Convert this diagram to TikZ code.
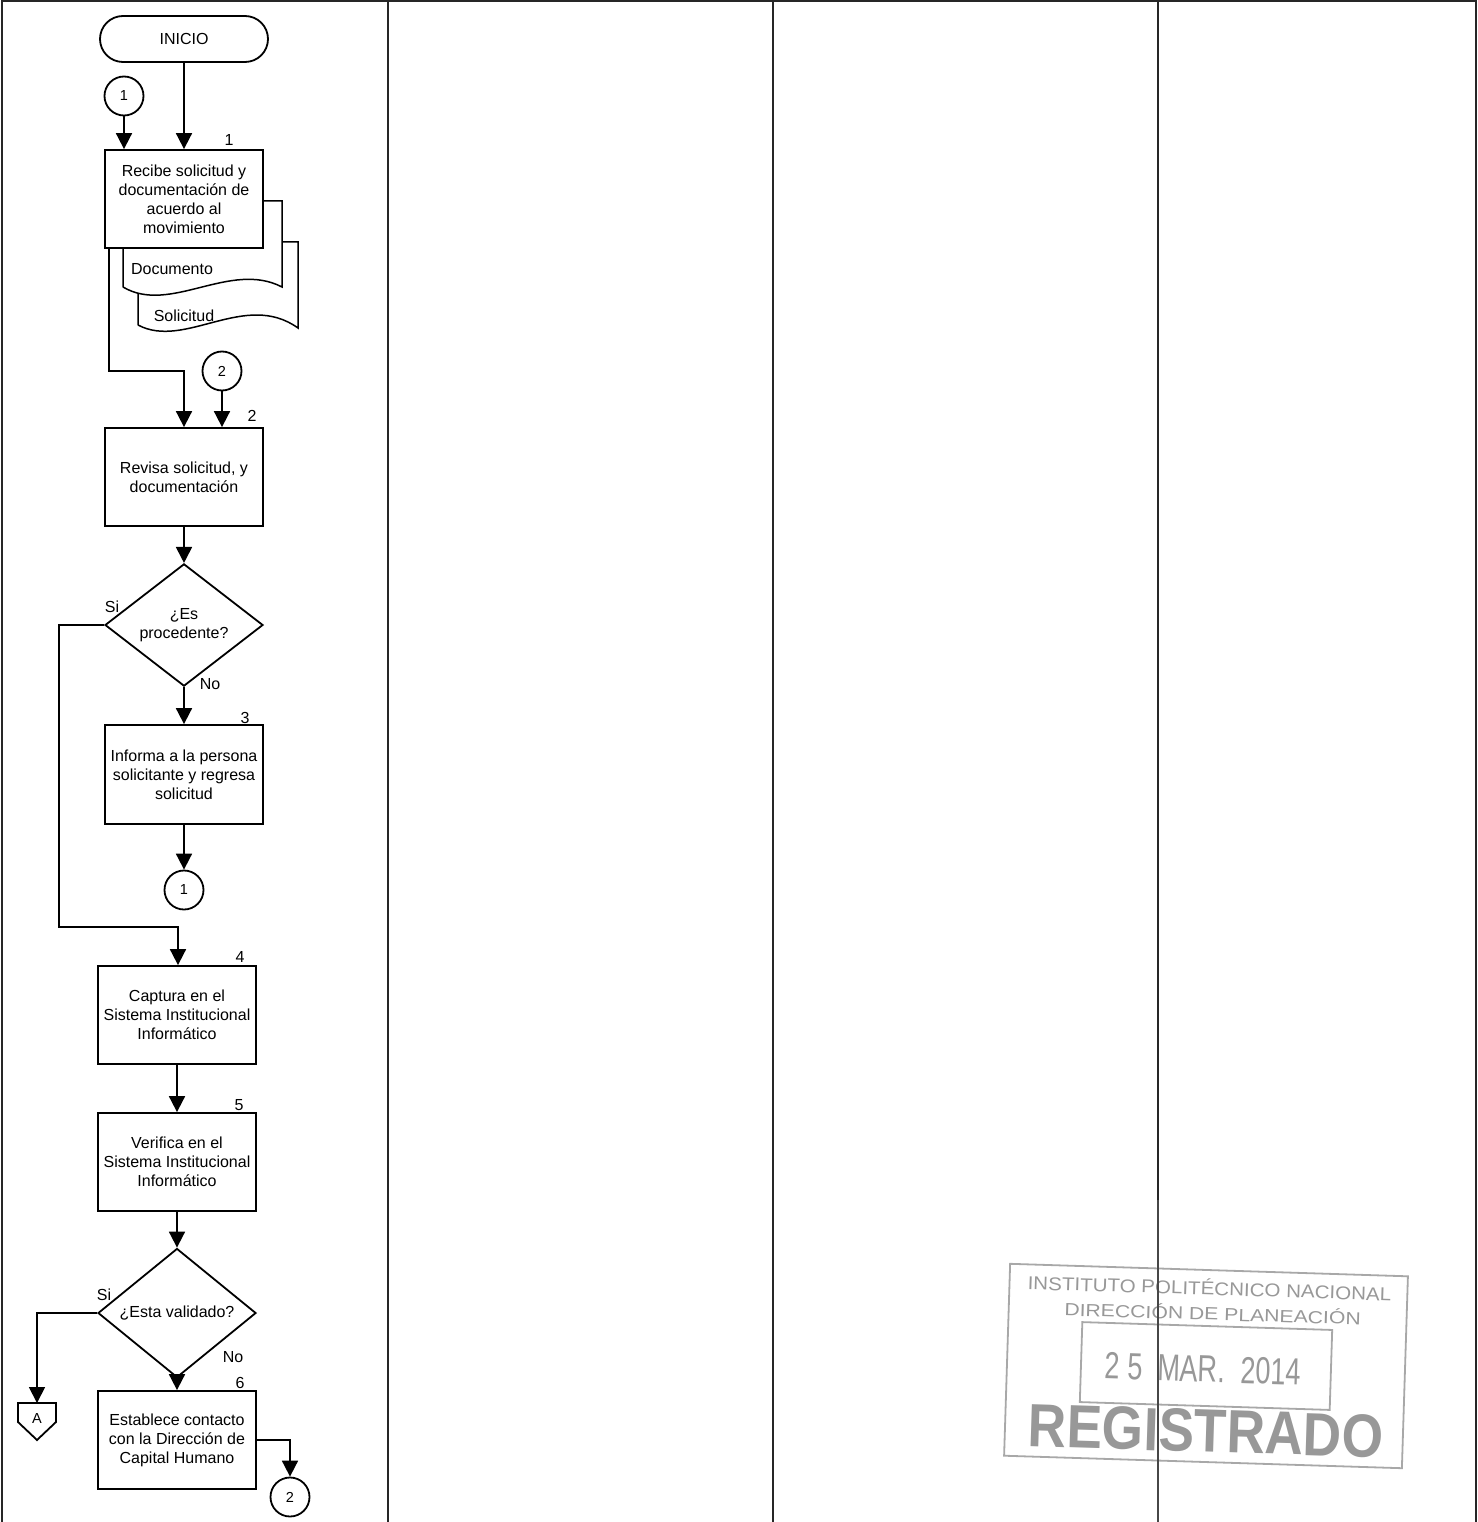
\documentclass[tikz,border=0pt]{standalone}
\usepackage{fontspec}
\setmainfont{Liberation Sans}
\usetikzlibrary{shapes.geometric,arrows.meta}
\definecolor{stampgray}{HTML}{A8A8A8}
\definecolor{stamptext}{HTML}{989898}
\begin{document}
\begin{tikzpicture}[x=1pt,y=-1pt,
  txt/.style={font=\fontsize{16}{19}\selectfont},
  flow/.style={draw=black,line width=1.8pt,fill=white},
  procbox/.style={flow,rectangle,minimum width=158pt,minimum height=98pt,inner sep=1pt,align=center,txt},
  decision/.style={flow,diamond,minimum width=158pt,minimum height=97pt,inner sep=0pt,align=center,txt},
  terminal/.style={flow,rectangle,rounded corners=23pt,minimum width=168pt,minimum height=46pt,txt},
  connector/.style={flow,circle,minimum size=39pt,inner sep=0pt,font=\fontsize{14.5}{14.5}\selectfont},
  arrow/.style={line width=1.8pt,-{Triangle[width=16pt,length=16pt]}},
  tag/.style={inner sep=0pt,txt},
  docshape/.style={draw=black,line width=1.5pt,fill=white},
  frameline/.style={line width=2pt,draw=black!85},
  stampline/.style={draw=stampgray,line width=1.8pt},
  stampword/.style={text=stamptext,inner sep=0pt,anchor=base,transform shape},
]
\useasboundingbox (0,0) rectangle (1477,1522);

% ---------- stamp ----------
\begin{scope}[rotate around={-1.8:(1206,1366)}]
  \draw[stampline] (1007,1270) rectangle (1405,1462);
  \draw[stampline] (1081,1326) rectangle (1331,1406);
  \node[stampword] (st1) at (1207,1295) {\fontsize{18.5}{18.5}\selectfont\scalebox{1.11}[1]{INSTITUTO POLITÉCNICO NACIONAL}};
  \node[stampword] (st2) at (1211,1320) {\fontsize{17.5}{17.5}\selectfont\scalebox{1.21}[1]{DIRECCIÓN DE PLANEACIÓN}};
  \node[stampword] (st3) at (1203,1382) {\fontsize{37.7}{37.7}\selectfont\scalebox{0.72}[1]{2 5\ \ MAR.\ \ 2014}};
  \node[stampword] (st4) at (1208,1452) {\fontsize{61}{61}\selectfont\bfseries\scalebox{0.873}[1]{REGISTRADO}};
\end{scope}

% ---------- frame ----------
\draw[frameline] (2,1522) -- (2,1.5) -- (1475.5,1.5) -- (1475.5,1522);
\draw[frameline] (388,1.5) -- (388,1522);
\draw[frameline] (773,1.5) -- (773,1522);
\draw[frameline] (1158,1.5) -- (1158,1200);
\draw[line width=1.3pt,draw=black!72] (1158,1200) -- (1158,1522);

% ---------- documents behind box 1 ----------
\draw[docshape] (138,325) -- (138,242) -- (298,242) -- (298,328)
  .. controls (245,290) and (185,350) .. (138,325);
\draw[docshape] (123,287) -- (123,201) -- (282,201) -- (282,287)
  .. controls (230,260) and (170,315) .. (123,287);
\node[tag] (docA) at (172,269) {Documento};
\node[tag] (docB) at (184,316) {Solicitud};

% ---------- nodes ----------
\node[terminal] (inicio) at (184,39) {INICIO};
\node[connector] (c1top) at (124,96) {1};
\node[procbox] (box1) at (184,199) {Recibe solicitud y\\documentación de\\acuerdo al\\movimiento};
\node[tag] (n1) at (229,140) {1};

\node[connector] (c2top) at (222,371) {2};
\node[procbox] (box2) at (184,477) {Revisa solicitud, y\\documentación};
\node[tag] (n2) at (252,416) {2};

\node[decision] (d1) at (184,625) {¿Es\\procedente?};
\node[tag] (si1) at (112,607) {Si};
\node[tag] (no1) at (210,684) {No};

\node[procbox,minimum height=99pt] (box3) at (184,774.5) {Informa a la persona\\solicitante y regresa\\solicitud};
\node[tag] (n3) at (245,718) {3};
\node[connector] (c1bot) at (184,890) {1};

\node[procbox] (box4) at (177,1015) {Captura en el\\Sistema Institucional\\Informático};
\node[tag] (n4) at (240,957) {4};

\node[procbox] (box5) at (177,1162) {Verifica en el\\Sistema Institucional\\Informático};
\node[tag] (n5) at (239,1105) {5};

\node[decision,minimum height=98pt] (d2) at (177,1313) {¿Esta validado?};
\node[tag] (si2) at (104,1295) {Si};
\node[tag] (no2) at (233,1357) {No};

\node[procbox] (box6) at (177,1440) {Establece contacto\\con la Dirección de\\Capital Humano};
\node[tag] (n6) at (240,1383) {6};
\node[connector] (c2bot) at (290,1497) {2};

% off-page connector A
\draw[flow] (18,1403) -- (56,1403) -- (56,1422) -- (37,1440) -- (18,1422) -- cycle;
\coordinate (offA) at (37,1403);
\node[inner sep=0pt,font=\fontsize{14.5}{14.5}\selectfont] (offAtext) at (37,1418) {A};

% ---------- connectors ----------
\draw[arrow] (inicio.south) -- (box1.north);
\draw[arrow] (c1top.south) -- (c1top.south |- box1.north);
\draw[arrow] ([xshift=5pt]box1.south west) |- ([yshift=56pt]box2.north) -- (box2.north);
\draw[arrow] (c2top.south) -- (c2top.south |- box2.north);
\draw[arrow] (box2.south) -- (d1.north);
\draw[arrow] (d1.west) -- ++(-45,0) |- ([xshift=1pt,yshift=38pt]box4.north) -- ([xshift=1pt]box4.north);
\draw[arrow] (d1.south) -- (box3.north);
\draw[arrow] (box3.south) -- (c1bot.north);
\draw[arrow] (box4.south) -- (box5.north);
\draw[arrow] (box5.south) -- (d2.north);
\draw[arrow] (d2.west) -| (offA);
\draw[arrow] (d2.south) -- (box6.north);
\draw[arrow] (box6.east) -| (c2bot.north);
\end{tikzpicture}
\end{document}
